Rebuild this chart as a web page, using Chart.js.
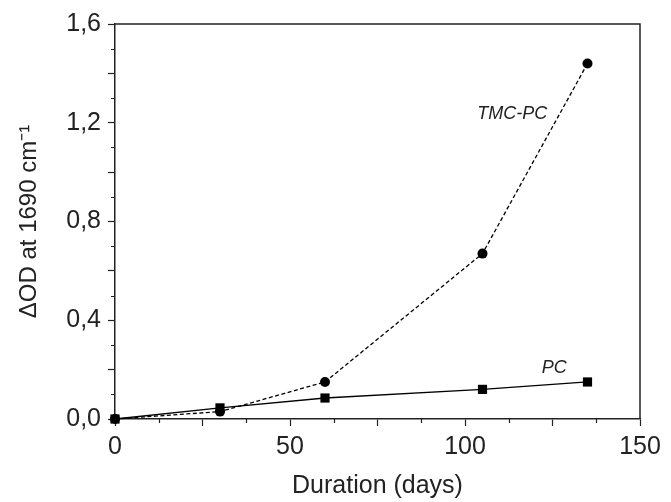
<!DOCTYPE html>
<html>
<head>
<meta charset="utf-8">
<script src="https://cdn.jsdelivr.net/npm/chart.js@4/dist/chart.umd.min.js"></script>
<style>
    html, body { margin: 0; padding: 0; background: #fff; }
    #wrap { width: 671px; height: 502px; position: relative; }
</style>
</head>
<body>
<div id="wrap"><canvas id="chart"></canvas></div>
<script>
// duration in days
const durations = [0, 30, 60, 105, 135];
const tmcPc = [0, 0.03, 0.15, 0.67, 1.44];
const pc = [0, 0.045, 0.085, 0.12, 0.15];

const seriesNames = ['TMC-PC', 'PC'];
// where the series names sit, in data units
const nameAnchors = [
    { x: 113.5, y: 1.235 },
    { x: 125.5, y: 0.207 }
];

const FONT = "'Liberation Sans', Arial, sans-serif";
const INK = '#222';

function toComma(v) {
    return v.toFixed(1).replace('.', ',');
}

// frame, minor ticks and the italic series names
const extras = {
    id: 'extras',
    afterDraw(chart) {
        const ctx = chart.ctx;
        const area = chart.chartArea;
        const xs = chart.scales.x;
        const ys = chart.scales.y;

        ctx.save();
        ctx.strokeStyle = INK;
        ctx.lineWidth = 1.5;
        ctx.beginPath();
        ctx.moveTo(area.left, area.top);
        ctx.lineTo(area.right, area.top);
        ctx.lineTo(area.right, area.bottom);
        ctx.stroke();

        ctx.lineWidth = 1.2;
        ctx.beginPath();
        for (let v = 12.5; v < 150; v += 25) {
            const px = Math.round(xs.getPixelForValue(v)) + 0.5;
            ctx.moveTo(px, area.bottom);
            ctx.lineTo(px, area.bottom + 4);
        }
        for (let v = 0.1; v < 1.6; v += 0.2) {
            const py = Math.round(ys.getPixelForValue(v)) + 0.5;
            ctx.moveTo(area.left, py);
            ctx.lineTo(area.left - 4, py);
        }
        ctx.stroke();

        ctx.fillStyle = INK;
        ctx.font = 'italic 18px ' + FONT;
        ctx.textAlign = 'center';
        ctx.textBaseline = 'middle';
        seriesNames.forEach((name, i) => {
            ctx.fillText(name, xs.getPixelForValue(nameAnchors[i].x), ys.getPixelForValue(nameAnchors[i].y));
        });
        ctx.restore();
    }
};

const ctx = document.getElementById('chart').getContext('2d');
new Chart(ctx, {
    type: 'line',
    data: {
        datasets: [{
            label: seriesNames[0],
            data: durations.map((d, i) => ({ x: d, y: tmcPc[i] })),
            borderColor: '#000',
            backgroundColor: '#000',
            borderWidth: 1.3,
            borderDash: [4, 2.5],
            pointStyle: 'circle',
            pointRadius: 5,
            pointBorderWidth: 0,
            tension: 0
        }, {
            label: seriesNames[1],
            data: durations.map((d, i) => ({ x: d, y: pc[i] })),
            borderColor: '#000',
            backgroundColor: '#000',
            borderWidth: 1.3,
            pointStyle: 'rect',
            pointRadius: 6.5,
            pointBorderWidth: 0,
            tension: 0
        }]
    },
    options: {
        responsive: true,
        maintainAspectRatio: false,
        animation: false,
        clip: false,
        layout: {
            padding: { top: 24, right: 31, left: 0, bottom: 0 }
        },
        scales: {
            x: {
                type: 'linear',
                min: 0,
                max: 150,
                afterFit: (scale) => { scale.height = 83; },
                grid: {
                    drawOnChartArea: false,
                    drawTicks: true,
                    tickLength: 7,
                    tickWidth: 1.2,
                    tickColor: INK
                },
                border: { display: true, color: INK, width: 1.5 },
                ticks: {
                    stepSize: 25,
                    padding: 6,
                    color: INK,
                    font: { family: FONT, size: 25 },
                    maxRotation: 0,
                    autoSkip: false,
                    callback: (v) => (v % 50 === 0 ? String(v) : '')
                },
                title: {
                    display: true,
                    text: 'Duration (days)',
                    color: INK,
                    font: { family: FONT, size: 25 },
                    padding: { top: 0, bottom: 1 }
                }
            },
            y: {
                min: 0,
                max: 1.6,
                afterFit: (scale) => { scale.width = 115; },
                grid: {
                    drawOnChartArea: false,
                    drawTicks: true,
                    tickLength: 7,
                    tickWidth: 1.2,
                    tickColor: INK
                },
                border: { display: true, color: INK, width: 1.5 },
                ticks: {
                    stepSize: 0.2,
                    padding: 7,
                    color: INK,
                    font: { family: FONT, size: 25 },
                    autoSkip: false,
                    callback: (v) => (Math.round(v * 10) % 4 === 0 ? toComma(v) : '')
                },
                title: {
                    display: true,
                    text: 'ΔOD at 1690 cm⁻¹',
                    color: INK,
                    font: { family: FONT, size: 24 },
                    padding: { top: 15, bottom: 0 }
                }
            }
        },
        plugins: {
            legend: { display: false },
            tooltip: { enabled: false }
        }
    },
    plugins: [extras]
});
</script>
</body>
</html>
